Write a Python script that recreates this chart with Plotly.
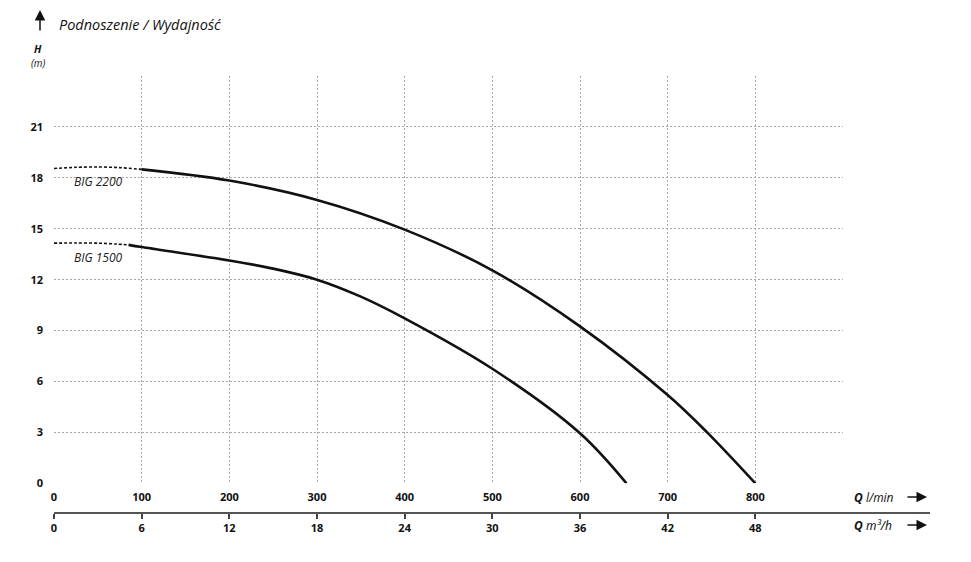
import plotly.graph_objects as go

# ---- data ----
q_big2200_dash = [0, 25, 50, 75, 100]
h_big2200_dash = [18.55, 18.62, 18.64, 18.6, 18.5]
q_big2200 = [100, 200, 300, 400, 500, 600, 700, 745, 800]
h_big2200 = [18.5, 17.84, 16.7, 14.95, 12.55, 9.25, 5.2, 3.0, 0.0]

q_big1500_dash = [0, 25, 50, 70, 85]
h_big1500_dash = [14.15, 14.16, 14.15, 14.1, 14.05]
q_big1500 = [85, 100, 200, 250, 300, 350, 400, 500, 600, 653]
h_big1500 = [14.05, 13.92, 13.13, 12.65, 12.0, 11.0, 9.72, 6.75, 2.95, 0.0]

y_ticks = [0, 3, 6, 9, 12, 15, 18, 21]
x_ticks_lmin = [0, 100, 200, 300, 400, 500, 600, 700, 800]
x_ticks_m3h = [0, 6, 12, 18, 24, 30, 36, 42, 48]

FONT = "Open Sans"

fig = go.Figure()

for qd, hd, qs, hs in [(q_big2200_dash, h_big2200_dash, q_big2200, h_big2200),
                       (q_big1500_dash, h_big1500_dash, q_big1500, h_big1500)]:
    fig.add_trace(go.Scatter(x=qd, y=hd, mode="lines",
                             line=dict(color="#111", width=1.6, dash="3px,2px", shape="spline", smoothing=0.8),
                             hoverinfo="skip", showlegend=False))
    fig.add_trace(go.Scatter(x=qs, y=hs, mode="lines",
                             line=dict(color="#111", width=2.6, shape="spline", smoothing=1.0),
                             hoverinfo="skip", showlegend=False))

# helper trace for the m3/h axis
fig.add_trace(go.Scatter(x=[0], y=[0], xaxis="x2", yaxis="y2", mode="markers",
                         marker=dict(opacity=0), hoverinfo="skip", showlegend=False))

plot_l, plot_r_px, plot_t, plot_b_px = 54, 930, 76, 512
W, H = 971, 562
x_end_px = 843
xdom = (x_end_px - plot_l) / (plot_r_px - plot_l)
ydom0 = (plot_b_px - 483.3) / (plot_b_px - plot_t)

grid = dict(showgrid=True, gridcolor="#a8a8a8", gridwidth=1, griddash="2px,2px", zeroline=False,
            showline=False, automargin=False)
tickfont = dict(family=FONT, size=11, color="#111", weight="bold")

fig.update_layout(
    width=W, height=H,
    margin=dict(l=plot_l, r=W - plot_r_px, t=plot_t, b=H - plot_b_px, autoexpand=False),
    paper_bgcolor="white", plot_bgcolor="white",
    xaxis=dict(domain=[0, xdom], range=[0, 900], tickvals=x_ticks_lmin + [900],
               ticktext=[str(v) for v in x_ticks_lmin] + [""], ticks="", ticklabelstandoff=6,
               tickfont=tickfont, anchor="y", **grid),
    yaxis=dict(domain=[ydom0, 1], range=[0, 24], tickvals=y_ticks + [24],
               ticktext=[str(v) for v in y_ticks] + [""], ticks="", ticklabelstandoff=10,
               tickfont=tickfont, anchor="x", **grid),
    xaxis2=dict(domain=[0, 1], range=[0, 54 / xdom], tickvals=x_ticks_m3h, anchor="y2",
                showline=True, linecolor="#555", linewidth=1.5, ticks="outside", ticklen=5,
                tickwidth=1.5, tickcolor="#444", showgrid=False, zeroline=False, tickfont=tickfont,
                automargin=False),
    yaxis2=dict(domain=[0, 0.01], visible=False, range=[0, 1], automargin=False),
)

ph = plot_b_px - plot_t
pw = plot_r_px - plot_l
def px(xp):
    return (xp - plot_l) / pw
def py(yp):
    return (plot_b_px - yp) / ph

ann = []
# curve labels
ann.append(dict(x=20, y=17.8, xref="x", yref="y", text="<i>BIG 2200</i>", showarrow=False, xanchor="left",
                yanchor="middle", font=dict(family=FONT, size=12, color="#222")))
ann.append(dict(x=20, y=13.3, xref="x", yref="y", text="<i>BIG 1500</i>", showarrow=False, xanchor="left",
                yanchor="middle", font=dict(family=FONT, size=12, color="#222")))
# title
ann.append(dict(x=px(57), y=py(24), xref="paper", yref="paper", text="<i>Podnoszenie / Wydajność</i>",
                showarrow=False, xanchor="left", yanchor="middle", font=dict(family=FONT, size=14.5, color="#111")))
ann.append(dict(x=px(40), y=py(10), xref="paper", yref="paper", text="", showarrow=True, ax=0, ay=22,
                arrowhead=2, arrowsize=1.4, arrowwidth=1.5, arrowcolor="#111"))
ann.append(dict(x=px(38), y=py(49), xref="paper", yref="paper", text="<b><i>H</i></b>", showarrow=False,
                xanchor="center", yanchor="middle", font=dict(family=FONT, size=10.5, color="#111")))
ann.append(dict(x=px(38), y=py(63), xref="paper", yref="paper", text="<i>(m)</i>", showarrow=False,
                xanchor="center", yanchor="middle", font=dict(family=FONT, size=10, color="#111")))
# axis unit labels
ann.append(dict(x=px(852), y=py(497), xref="paper", yref="paper", text="<b><i>Q</i></b> <i>l/min</i>",
                showarrow=False, xanchor="left", yanchor="middle", font=dict(family=FONT, size=12, color="#111")))
ann.append(dict(x=px(852), y=py(525), xref="paper", yref="paper", text="<b><i>Q</i></b> <i>m³/h</i>",
                showarrow=False, xanchor="left", yanchor="middle", font=dict(family="Noto Sans", size=12, color="#111")))
for yy in (497, 525):
    ann.append(dict(x=px(927), y=py(yy), xref="paper", yref="paper", text="", showarrow=True, ax=-21, ay=0,
                    arrowhead=2, arrowsize=1.4, arrowwidth=1.5, arrowcolor="#111"))
fig.update_layout(annotations=ann)

fig.write_html("out.html", config={"displayModeBar": False},
               post_script="document.body.style.margin='0';")
